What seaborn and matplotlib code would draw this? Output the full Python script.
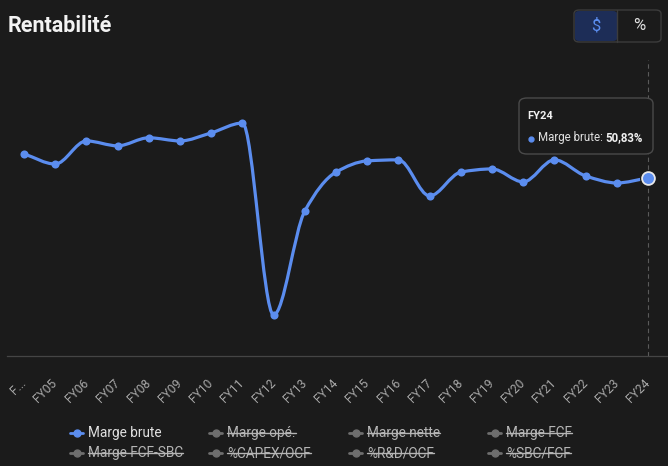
import numpy as np
import pandas as pd
import matplotlib
matplotlib.use('Agg')
import matplotlib.pyplot as plt
from matplotlib.path import Path
from matplotlib.patches import PathPatch, FancyBboxPatch
from matplotlib.lines import Line2D
import seaborn as sns

# ---------------- data ----------------
years = ['FY04', 'FY05', 'FY06', 'FY07', 'FY08', 'FY09', 'FY10', 'FY11', 'FY12', 'FY13',
         'FY14', 'FY15', 'FY16', 'FY17', 'FY18', 'FY19', 'FY20', 'FY21', 'FY22', 'FY23', 'FY24']
tick_labels = ['F...'] + years[1:]
marge_brute = [57.7, 54.8, 61.4, 60.0, 62.3, 61.4, 63.7, 66.5, 11.7, 41.4,
               52.5, 55.7, 56.0, 45.7, 52.5, 53.4, 49.7, 56.0, 51.4, 49.4, 50.83]
series_names = ['Marge brute', 'Marge opé.', 'Marge nette', 'Marge FCF',
                'Marge FCF-SBC', '%CAPEX/OCF', '%R&D/OCF', '%SBC/FCF']
active_series = ['Marge brute']
tooltip_year = 'FY24'
tooltip_value = '50,83%'

df = pd.DataFrame({'x': np.arange(len(years)), 'year': years, 'value': marge_brute})

BG = '#1b1b1b'
BLUE = '#5b8def'
W, H = 668, 466

sns.set_theme(style='dark', rc={'axes.facecolor': BG, 'figure.facecolor': BG})
plt.rcParams['font.family'] = ['Roboto', 'DejaVu Sans']


def fx(px):
    return px / W


def fy(py):
    return 1 - py / H


def monotone_path(x, y):
    # monotone cubic (Fritsch-Carlson) drawn as bezier segments
    x = np.asarray(x, float)
    y = np.asarray(y, float)
    h = np.diff(x)
    d = np.diff(y) / h
    m = np.zeros_like(y)
    m[0], m[-1] = d[0], d[-1]
    for i in range(1, len(y) - 1):
        if d[i - 1] * d[i] <= 0:
            m[i] = 0
        else:
            w1 = 2 * h[i] + h[i - 1]
            w2 = h[i] + 2 * h[i - 1]
            m[i] = (w1 + w2) / (w1 / d[i - 1] + w2 / d[i])
    verts = [(x[0], y[0])]
    codes = [Path.MOVETO]
    for i in range(len(x) - 1):
        verts += [(x[i] + h[i] / 3, y[i] + m[i] * h[i] / 3),
                  (x[i + 1] - h[i] / 3, y[i + 1] - m[i + 1] * h[i] / 3),
                  (x[i + 1], y[i + 1])]
        codes += [Path.CURVE4] * 3
    return Path(verts, codes)


fig = plt.figure(figsize=(W / 100, H / 100), dpi=100)
ax = fig.add_axes([fx(7), fy(356), fx(661), 296 / H])
ax.set_facecolor(BG)

# line + markers
ax.add_patch(PathPatch(monotone_path(df['x'], df['value']), fill=False,
                       edgecolor=BLUE, lw=2.3, capstyle='round', joinstyle='round', zorder=2))
sns.scatterplot(data=df, x='x', y='value', color=BLUE, s=34, edgecolor=BLUE,
                linewidth=0, ax=ax, zorder=3)
last = df.iloc[-1]
ax.axvline(last['x'], color='#5a5a5a', lw=0.8, ls=(0, (4, 3)), zorder=1)
ax.scatter([last['x']], [last['value']], s=150, color=BG, zorder=4, linewidths=0)
ax.scatter([last['x']], [last['value']], s=85, color=BLUE, edgecolor='#e8e8e8',
           linewidths=1.3, zorder=5)

ax.set_xlim(-0.545, 20.64)
ax.set_ylim(0, 84.5)
ax.set_xticks(df['x'])
ax.set_xticklabels(tick_labels, rotation=45, ha='right', va='center',
                   rotation_mode='anchor', fontsize=8.7, color='#a8a8a8')
ax.tick_params(axis='x', length=0, pad=18)
ax.set_yticks([])
ax.set_xlabel('')
ax.set_ylabel('')
for s in ['top', 'left', 'right']:
    ax.spines[s].set_visible(False)
ax.spines['bottom'].set_color('#454545')
ax.spines['bottom'].set_linewidth(0.9)

# title
fig.text(fx(8), fy(26), 'Rentabilité', fontsize=15.5, fontweight='bold',
         color='#f2f2f2', va='center', ha='left')

# $ / % toggle
fig.patches.append(FancyBboxPatch((fx(574), fy(42)), fx(87), 32 / H,
                                  boxstyle='round,pad=0,rounding_size=0.008',
                                  transform=fig.transFigure, facecolor=BG,
                                  edgecolor='#3c3c3c', lw=1))
fig.patches.append(FancyBboxPatch((fx(575), fy(41)), fx(42), 30 / H,
                                  boxstyle='round,pad=0,rounding_size=0.006',
                                  transform=fig.transFigure, facecolor='#1d2d57',
                                  edgecolor='none'))
fig.lines.append(Line2D([fx(617), fx(617)], [fy(42), fy(10)], color='#3c3c3c',
                        lw=1, transform=fig.transFigure))
fig.text(fx(596), fy(26), '$', fontsize=12, color=BLUE, ha='center', va='center')
fig.text(fx(639), fy(26), '%', fontsize=12, color='#e0e0e0', ha='center', va='center')

# tooltip
fig.patches.append(FancyBboxPatch((fx(519), fy(154)), fx(134), 56 / H,
                                  boxstyle='round,pad=0,rounding_size=0.012',
                                  transform=fig.transFigure, facecolor=BG,
                                  edgecolor='#4a4a4a', lw=1, zorder=6))
fig.text(fx(527), fy(116), tooltip_year, fontsize=8, fontweight='bold',
         color='#f0f0f0', va='center', zorder=7)
fig.lines.append(Line2D([fx(531)], [fy(139)], marker='o', ms=3.5, color=BLUE,
                        transform=fig.transFigure, zorder=7))
t1 = fig.text(fx(538), fy(138), 'Marge brute: ', fontsize=8.3, color='#e0e0e0',
              va='center', zorder=7)
renderer = fig.canvas.get_renderer()
bb = t1.get_window_extent(renderer)
fig.text(bb.x1 / W, fy(138), tooltip_value, fontsize=8.3, fontweight='bold',
         color='#f0f0f0', va='center', zorder=7)

# legend (inactive series are struck through)
col_x = [70, 209, 349, 488]
row_y = [433, 453]
for i, name in enumerate(series_names):
    cx = col_x[i % 4]
    cy = row_y[i // 4]
    on = name in active_series
    c = BLUE if on else '#6e6e6e'
    fig.lines.append(Line2D([fx(cx), fx(cx + 13)], [fy(cy), fy(cy)], color=c, lw=2,
                            transform=fig.transFigure))
    fig.lines.append(Line2D([fx(cx + 6.5)], [fy(cy)], marker='o', ms=5, color=c,
                            transform=fig.transFigure))
    t = fig.text(fx(cx + 18), fy(cy), name, fontsize=9.8,
                 color='#e0e0e0' if on else '#b5b5b5', va='center', ha='left')
    if not on:
        b = t.get_window_extent(renderer)
        ym = b.y0 + b.height * 0.5
        fig.lines.append(Line2D([b.x0 / W, b.x1 / W], [ym / H, ym / H],
                                color='#b5b5b5', lw=1, transform=fig.transFigure))

fig.savefig('out.png', dpi=100, facecolor=BG)
